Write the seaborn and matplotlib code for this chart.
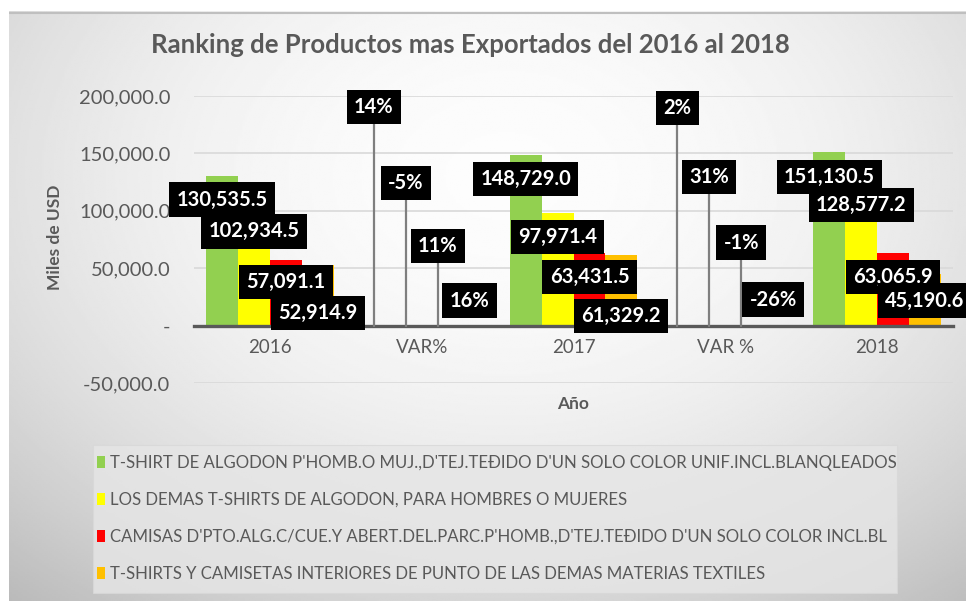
import numpy as np
import pandas as pd
import matplotlib
matplotlib.use("Agg")
import matplotlib.pyplot as plt
import seaborn as sns
from matplotlib.patches import Patch, Rectangle

# ---------------- data ----------------
categories = ["2016", "VAR%", "2017", "VAR %", "2018"]
series = [
    "T-SHIRT DE ALGODON P'HOMB.O MUJ.,D'TEJ.TEÐIDO D'UN SOLO COLOR UNIF.INCL.BLANQLEADOS",
    "LOS DEMAS T-SHIRTS DE ALGODON, PARA HOMBRES O MUJERES",
    "CAMISAS D'PTO.ALG.C/CUE.Y ABERT.DEL.PARC.P'HOMB.,D'TEJ.TEÐIDO D'UN SOLO COLOR INCL.BL",
    "T-SHIRTS Y CAMISETAS INTERIORES DE PUNTO DE LAS DEMAS MATERIAS TEXTILES",
]
v2016 = [130535.5, 102934.5, 57091.1, 52914.9]
var_16_17 = [0.14, -0.05, 0.11, 0.16]
v2017 = [148729.0, 97971.4, 63431.5, 61329.2]
var_17_18 = [0.02, 0.31, -0.01, -0.26]
v2018 = [151130.5, 128577.2, 63065.9, 45190.6]
is_pct = [False, True, False, True, False]

yticks = [-50000, 0, 50000, 100000, 150000, 200000]
ytick_labels = ["-50,000.0", "-", "50,000.0", "100,000.0", "150,000.0", "200,000.0"]

colors = ["#92D050", "#FFFF00", "#FF0000", "#FFC000"]

# label placement (layout only): px below bar top for value labels
value_label_drop = {0: [24, 24, 22, 48], 2: [24, 24, 24, 61], 4: [25, 27, 24, 27]}
# heights (data units) of the percentage call-out labels
pct_label_height = {1: [190400, 124300, 69500, 21700], 3: [189500, 129500, 72200, 22600]}

cat_values = [v2016, var_16_17, v2017, var_17_18, v2018]
rows = []
for c, vals in zip(categories, cat_values):
    for s, v in zip(series, vals):
        rows.append({"cat": c, "series": s, "val": v})
df = pd.DataFrame(rows)

# ---------------- figure ----------------
sns.set_theme(style="white")
plt.rcParams["font.family"] = ["Lato", "DejaVu Sans"]
GRAY = "#595959"

fig = plt.figure(figsize=(9.66, 6.01), dpi=100)
fig.patch.set_facecolor("white")

# background gradient panel
bg = fig.add_axes([9 / 966, 0, 1 - 9 / 966, 1 - 11 / 601], zorder=-5)
yy, xx = np.mgrid[0:1:300j, 0:1:500j]
r2 = ((xx - 0.52) / 0.72) ** 2 + ((yy - 0.28) / 0.85) ** 2
grad = np.clip(0.99 - 0.21 * r2, 0, 1)
bg.imshow(grad, cmap="gray", vmin=0, vmax=1, aspect="auto", extent=[0, 1, 1, 0])
bg.set_xlim(0, 1); bg.set_ylim(1, 0)
bg.axis("off")
bg.plot([0, 1], [0.003, 0.003], color="#BFBFBF", lw=1.5)

ax = fig.add_axes([194 / 966, 1 - 383 / 601, 759 / 966, 287 / 601])
ax.patch.set_alpha(0)

sns.barplot(data=df, x="cat", y="val", hue="series", order=categories,
            hue_order=series, palette=colors, width=0.84, saturation=1,
            errorbar=None, linewidth=0, ax=ax, legend=False, zorder=2)

ax.set_ylim(-50000, 200000)
ax.set_yticks(yticks)
ax.set_yticklabels(ytick_labels)
ax.yaxis.grid(True, color="#D9D9D9", lw=1.2)
ax.set_axisbelow(True)
for sp in ["top", "right", "left"]:
    ax.spines[sp].set_visible(False)
ax.spines["bottom"].set_position(("data", 0))
ax.spines["bottom"].set_color("#595959")
ax.spines["bottom"].set_linewidth(2.4)
ax.spines["bottom"].set_zorder(3)
ax.tick_params(axis="y", length=0, pad=17, labelsize=14.5, labelcolor=GRAY)
ax.tick_params(axis="x", length=0, pad=10, labelsize=13.5, labelcolor=GRAY)
ax.set_xlabel("")
ax.set_ylabel("")
ax.set_xlim(-0.5, 4.5)

lab_kw = dict(color="white", fontsize=14.5, fontweight="bold", ha="center",
              va="center", zorder=6, annotation_clip=False,
              bbox=dict(boxstyle="square,pad=0.36", fc="black", ec="none"))

for si, cont in enumerate(ax.containers):
    for ci, bar in enumerate(cont.patches):
        xc = bar.get_x() + bar.get_width() / 2
        val = cat_values[ci][si]
        if is_pct[ci]:
            yl = pct_label_height[ci][si]
            if yl > 40000:
                ax.plot([xc, xc], [0, yl], color="#7F7F7F", lw=1.6, zorder=4)
            ax.annotate(f"{val:.0%}", xy=(xc, yl), **lab_kw)
        else:
            drop = value_label_drop[ci][si]
            ax.annotate(f"{val:,.1f}", xy=(xc, val), xytext=(0, -drop * 0.72),
                        textcoords="offset points", **lab_kw)

# titles / axis labels
fig.text(470 / 966, 1 - 45 / 601, "Ranking de Productos mas Exportados del 2016 al 2018",
         ha="center", va="center", fontsize=18.5, fontweight="bold", color=GRAY)
fig.text(55 / 966, 1 - 237 / 601, "Miles de USD", rotation=90, ha="center",
         va="center", fontsize=12.5, fontweight="bold", color=GRAY)
fig.text(573 / 966, 1 - 404 / 601, "Año", ha="center", va="center",
         fontsize=12.5, fontweight="bold", color=GRAY)

# legend
fig.patches.append(Rectangle((93 / 966, 1 - 593 / 601), (897 - 93) / 966, (593 - 445) / 601,
                             transform=fig.transFigure, fc="#E6E6E6", ec="#D8D8D8",
                             lw=0.8, alpha=0.8, zorder=-1))
handles = [Patch(fc=c, ec="none") for c in colors]
fig.legend(handles=handles, labels=series, loc="upper left",
           bbox_to_anchor=(97 / 966, 1 - 455 / 601), frameon=False,
           fontsize=12.1, handlelength=0.5, handleheight=0.7,
           handletextpad=0.3, labelspacing=1.25, labelcolor=GRAY,
           borderaxespad=0, borderpad=0)

fig.savefig("out.png", dpi=100)
